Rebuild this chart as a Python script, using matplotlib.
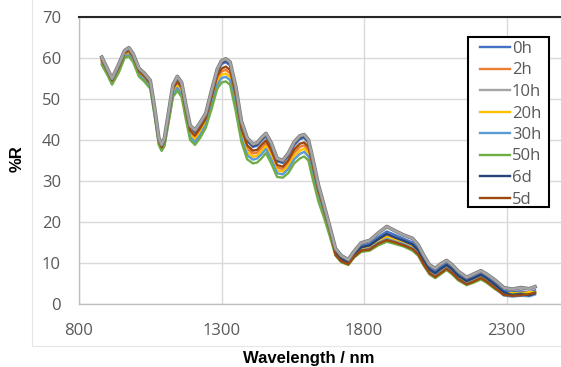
import numpy as np
import matplotlib
matplotlib.use("Agg")
import matplotlib.pyplot as plt
import matplotlib.patheffects as pe
from matplotlib.patches import Rectangle
from matplotlib.lines import Line2D

wavelength = [880, 900, 916, 940, 960, 975, 990, 1010, 1030, 1050, 1065, 1080, 1090, 1100,
              1115, 1130, 1145, 1160, 1175, 1190, 1207, 1225, 1245, 1265, 1285, 1300, 1315,
              1330, 1350, 1370, 1390, 1410, 1425, 1440, 1456, 1475, 1495, 1515, 1535, 1555,
              1575, 1590, 1605, 1620, 1640, 1660, 1680, 1700, 1720, 1745, 1765, 1790, 1820,
              1850, 1880, 1910, 1940, 1970, 1990, 2010, 2030, 2050, 2070, 2090, 2110, 2130,
              2160, 2185, 2210, 2230, 2260, 2290, 2320, 2350, 2380, 2400]

r_0h = [59.9, 57.1, 54.8, 58.2, 61.5, 62.2, 60.7, 57.2, 55.9, 54.2, 47.7, 40.2, 38.5, 40.2,
        46.6, 53.1, 55.0, 53.5, 48.0, 43.0, 41.9, 43.6, 46.0, 51.3, 56.5, 58.5, 59.0,
        58.2, 52.1, 43.8, 39.7, 38.3, 38.6, 39.8, 40.9, 38.5, 34.8, 34.4, 36.1, 38.7,
        40.2, 40.5, 39.3, 34.8, 28.4, 23.6, 18.5, 13.0, 11.3, 10.4, 12.3, 14.2, 14.7,
        16.3, 17.7, 16.8, 15.9, 15.0, 13.6, 11.0, 8.8, 7.9, 9.0, 9.9, 8.8, 7.3,
        5.9, 6.6, 7.4, 6.6, 5.1, 3.2, 2.9, 3.1, 2.8, 3.3]
r_2h = [59.3, 56.6, 54.3, 57.5, 60.9, 61.5, 60.0, 56.5, 55.2, 53.5, 47.0, 39.7, 37.9, 39.5,
        45.8, 52.0, 53.8, 52.3, 46.8, 41.8, 40.6, 42.4, 44.8, 49.8, 54.9, 56.7, 57.1,
        56.3, 50.0, 42.0, 37.9, 36.7, 36.9, 38.0, 39.2, 36.7, 33.3, 32.9, 34.4, 36.9,
        38.3, 38.7, 37.5, 33.0, 27.0, 22.5, 17.7, 12.4, 10.8, 10.0, 11.9, 13.5, 14.0,
        15.4, 16.6, 15.8, 15.1, 14.1, 12.8, 10.3, 8.1, 7.2, 8.3, 9.2, 8.1, 6.6,
        5.3, 6.0, 6.8, 6.0, 4.4, 2.7, 2.5, 2.8, 2.6, 3.0]
r_10h = [60.2, 57.3, 55.0, 58.5, 61.8, 62.5, 61.0, 57.5, 56.2, 54.5, 48.0, 40.5, 38.8, 40.5,
         47.0, 53.5, 55.5, 54.0, 48.5, 43.5, 42.4, 44.2, 46.5, 52.0, 57.2, 59.3, 59.8,
         59.0, 53.0, 44.5, 40.5, 39.0, 39.3, 40.5, 41.6, 39.2, 35.5, 35.0, 36.8, 39.5,
         41.0, 41.3, 40.0, 35.5, 29.0, 24.0, 18.8, 13.5, 11.8, 10.8, 12.8, 14.9, 15.5,
         17.3, 18.9, 17.8, 16.8, 16.0, 14.4, 11.8, 9.5, 8.7, 9.8, 10.6, 9.5, 8.0,
         6.5, 7.3, 8.1, 7.3, 5.8, 4.0, 3.6, 4.0, 3.7, 4.2]
r_20h = [59.0, 56.3, 54.0, 57.2, 60.6, 61.1, 59.7, 56.2, 54.9, 53.2, 46.7, 39.4, 37.6, 39.2,
         45.4, 51.6, 53.2, 51.7, 46.2, 41.2, 40.1, 41.8, 44.2, 49.1, 54.1, 55.9, 56.2,
         55.4, 49.1, 41.3, 37.1, 35.9, 36.2, 37.3, 38.5, 36.0, 32.6, 32.3, 33.7, 36.1,
         37.4, 37.9, 36.8, 32.3, 26.4, 22.1, 17.3, 12.3, 10.7, 9.9, 11.8, 13.4, 13.8,
         15.2, 16.3, 15.6, 14.8, 13.9, 12.6, 10.1, 7.9, 7.0, 8.1, 9.0, 7.9, 6.5,
         5.2, 5.8, 6.6, 5.8, 4.3, 2.6, 2.7, 2.5, 2.9, 2.8]
r_30h = [58.7, 56.1, 53.8, 56.9, 60.4, 60.8, 59.4, 55.9, 54.6, 52.9, 46.4, 39.1, 37.4, 38.9,
         45.0, 51.1, 52.7, 51.2, 45.7, 40.7, 39.5, 41.2, 43.7, 48.4, 53.4, 55.1, 55.4,
         54.6, 48.2, 40.5, 36.3, 35.2, 35.5, 36.5, 37.8, 35.2, 31.9, 31.6, 33.0, 35.3,
         36.6, 37.1, 36.0, 31.5, 25.8, 21.6, 17.0, 12.1, 10.5, 9.8, 11.6, 13.1, 13.5,
         14.9, 15.9, 15.2, 14.6, 13.6, 12.3, 9.8, 7.7, 6.8, 7.8, 8.8, 7.7, 6.2,
         5.0, 5.6, 6.4, 5.6, 4.0, 2.1, 1.8, 2.0, 1.9, 2.3]
r_50h = [58.3, 55.8, 53.5, 56.5, 60.0, 60.4, 59.0, 55.5, 54.2, 52.5, 46.0, 38.8, 37.4, 38.5,
         44.5, 50.5, 52.0, 50.5, 45.0, 40.0, 38.8, 40.5, 43.0, 47.5, 52.5, 54.0, 54.3,
         53.5, 47.0, 39.5, 35.3, 34.3, 34.5, 35.5, 36.8, 34.2, 31.0, 30.8, 32.0, 34.3,
         35.5, 36.0, 35.0, 30.5, 25.0, 21.0, 16.5, 11.8, 10.2, 9.5, 11.3, 12.7, 13.0,
         14.3, 15.2, 14.6, 14.0, 13.0, 11.8, 9.3, 7.2, 6.3, 7.3, 8.3, 7.2, 5.8,
         4.6, 5.2, 6.0, 5.2, 3.6, 2.4, 2.3, 2.6, 2.2, 2.9]
r_6d = [60.0, 57.2, 54.9, 58.3, 61.7, 62.3, 60.8, 57.3, 56.0, 54.3, 47.8, 40.4, 38.7, 40.3,
        46.8, 53.3, 55.2, 53.7, 48.2, 43.2, 42.1, 43.9, 46.2, 51.6, 56.8, 58.9, 59.4,
        58.6, 52.5, 44.1, 40.1, 38.6, 38.9, 40.1, 41.2, 38.8, 35.1, 34.7, 36.4, 39.1,
        40.6, 40.9, 39.6, 35.1, 28.7, 23.8, 18.6, 12.7, 11.0, 10.2, 12.1, 13.8, 14.3,
        15.8, 17.1, 16.2, 15.4, 14.5, 13.1, 10.6, 8.4, 7.5, 8.6, 9.5, 8.4, 6.9,
        5.6, 6.3, 7.1, 6.3, 4.7, 2.9, 2.2, 2.4, 2.1, 2.6]
r_5d = [59.5, 56.8, 54.5, 57.8, 61.2, 61.8, 60.3, 56.8, 55.5, 53.8, 47.3, 39.9, 38.2, 39.8,
        46.1, 52.5, 54.3, 52.8, 47.3, 42.3, 41.1, 42.9, 45.3, 50.4, 55.6, 57.4, 57.9,
        57.1, 50.9, 42.8, 38.7, 37.4, 37.6, 38.8, 39.9, 37.5, 33.9, 33.5, 35.1, 37.7,
        39.1, 39.4, 38.3, 33.8, 27.6, 23.0, 18.0, 12.0, 10.4, 9.7, 11.5, 13.0, 13.3,
        14.7, 15.6, 15.0, 14.3, 13.4, 12.1, 9.6, 7.5, 6.6, 7.6, 8.6, 7.5, 6.1,
        4.8, 5.5, 6.3, 5.5, 3.9, 2.2, 2.0, 2.1, 2.4, 2.7]

labels = ["0h", "2h", "10h", "20h", "30h", "50h", "6d", "5d"]
series = [r_0h, r_2h, r_10h, r_20h, r_30h, r_50h, r_6d, r_5d]
colors = ["#4472C4", "#ED7D31", "#A5A5A5", "#FFC000", "#5B9BD5", "#70AD47", "#264478", "#9E480E"]

x_ticks = [800, 1300, 1800, 2300]
y_ticks = [0, 10, 20, 30, 40, 50, 60, 70]

plt.rcParams["font.family"] = ["Open Sans", "DejaVu Sans"]

fig = plt.figure(figsize=(5.61, 3.67), dpi=100)
# faint chart-area border
fig.patches.append(Rectangle((32 / 561, 1 - 346 / 367), 1.0, 1.0, transform=fig.transFigure,
                             fill=False, edgecolor="#E6E6E6", linewidth=0.8))

ax = fig.add_axes([79 / 561, 1 - 304 / 367, 570 / 561, 287 / 367])

for lab, vals, col in zip(labels, series, colors):
    if lab == "10h":
        ax.plot(wavelength, vals, color=col, linewidth=1.7, zorder=4,
                path_effects=[pe.Stroke(linewidth=2.7, foreground="#777777"), pe.Normal()])
    else:
        ax.plot(wavelength, vals, color=col, linewidth=1.7, zorder=3)

ax.set_xlim(800, 2800)
ax.set_ylim(0, 70)
ax.set_xticks(x_ticks)
ax.set_yticks(y_ticks)
ax.grid(True, color="#D9D9D9", linewidth=1.0)
ax.set_axisbelow(True)
ax.tick_params(length=0, labelsize=12, labelcolor="#595959")
ax.tick_params(axis="y", pad=13)
ax.tick_params(axis="x", pad=14)
for s in ["left", "bottom"]:
    ax.spines[s].set_color("#BFBFBF")
    ax.spines[s].set_linewidth(1.0)
ax.spines["right"].set_visible(False)
ax.spines["top"].set_color("#262626")
ax.spines["top"].set_linewidth(1.5)

# legend: plain handles, frame drawn separately
handles = [Line2D([], [], color=c, linewidth=1.7) for c in colors]
leg = ax.legend(handles, labels, loc="upper left", bbox_to_anchor=(480 / 561, 1 - 41 / 367),
                bbox_transform=fig.transFigure, fontsize=12, frameon=False,
                handlelength=1.8, handletextpad=0.12, labelspacing=0.33, borderpad=0,
                borderaxespad=0)
leg.set_zorder(6)
for t in leg.get_texts():
    t.set_color("#595959")
ax.add_artist(Rectangle((468 / 561, 1 - 207 / 367), 81 / 561, 170 / 367,
                        transform=fig.transFigure, facecolor="white", edgecolor="#000000",
                        linewidth=1.5, zorder=5))

fig.text(309 / 561, 1 - 358 / 367, "Wavelength / nm", ha="center", va="center",
         fontsize=12, fontweight="bold", family="Liberation Sans")
fig.text(17 / 561, 1 - 159 / 367, "%R", ha="center", va="center", rotation=90,
         fontsize=12, fontweight="bold", family="Liberation Sans")

fig.savefig("out.png", dpi=100)
